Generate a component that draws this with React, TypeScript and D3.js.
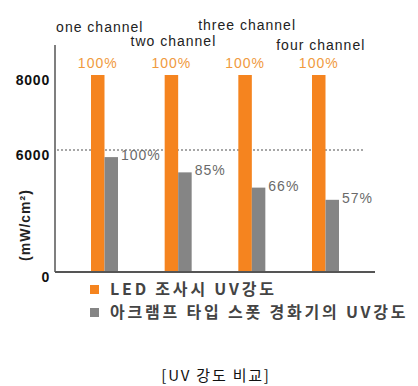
import * as d3 from "d3";

const categories = ["one channel", "two channel", "three channel", "four channel"];
const series = ["LED 조사시 UV강도", "아크램프 타입 스폿 경화기의 UV강도"];
const ledValues = [8000, 8000, 8000, 8000];
const arcValues = [5650, 4900, 4150, 3550];
const ledPct = ["100%", "100%", "100%", "100%"];
const arcPct = ["100%", "85%", "66%", "57%"];
const yTicks = [0, 6000, 8000];
const refLine = 6000;
const yLabel = "(mW/cm²)";
const caption = "[UV 강도 비교]";

const ORANGE = "#F5841F";
const GREY = "#858585";
const AXIS = "#555";

export default function App() {
  const width = 418;
  const height = 386;
  const axisX = 55;
  const axisTop = 45;
  const axisRight = 375;
  // schematic axis: the upper segment is stretched like in the original figure
  const y = d3.scaleLinear([0, refLine, 8000], [272, 150, 75]);
  const x0 = d3.scalePoint(categories, [105, 326]);
  const x1 = d3.scaleBand(series, [-14, 13]);
  // staggered rows for the category titles
  const labelRow = [32, 46, 30, 50];
  const sans = "'Liberation Sans', Arial, sans-serif";
  const kr = "'Noto Sans CJK KR', sans-serif";

  const bars = categories.flatMap((c, i) => [
    { c, i, s: series[0], v: ledValues[i], fill: ORANGE },
    { c, i, s: series[1], v: arcValues[i], fill: GREY },
  ]);

  return (
    <svg
      width={width}
      height={height}
      style={{ position: "absolute", left: 0, top: 0, background: "#fff" }}
    >
      <line
        x1={axisX + 2}
        x2={365}
        y1={y(refLine)}
        y2={y(refLine)}
        stroke="#8a8a8a"
        strokeWidth={1.5}
        strokeDasharray="2,2"
      />
      {bars.map((b) => (
        <rect
          key={b.c + b.s}
          x={(x0(b.c) ?? 0) + (x1(b.s) ?? 0)}
          y={y(b.v)}
          width={x1.bandwidth()}
          height={y(0) - y(b.v)}
          fill={b.fill}
        />
      ))}
      <line x1={axisX} x2={axisX} y1={axisTop} y2={y(0)} stroke={AXIS} strokeWidth={1.5} />
      <line x1={axisX} x2={axisRight} y1={y(0)} y2={y(0)} stroke={AXIS} strokeWidth={2} />

      {yTicks.map((t) => (
        <text
          key={t}
          x={50}
          y={y(t) + 10}
          textAnchor="end"
          fontFamily={sans}
          fontWeight="bold"
          fontSize={14}
          letterSpacing={0.8}
          fill="#111"
        >
          {t}
        </text>
      ))}
      <text
        transform={`translate(30,225) rotate(-90)`}
        textAnchor="middle"
        fontFamily={sans}
        fontWeight="bold"
        fontSize={14}
        letterSpacing={1}
        fill="#222"
      >
        {yLabel}
      </text>

      {categories.map((c, i) => (
        <text
          key={c}
          x={(x0(c) ?? 0) + (x1(series[0]) ?? 0) + x1.bandwidth() / 2 + 2}
          y={labelRow[i]}
          textAnchor="middle"
          fontFamily={sans}
          fontSize={14}
          letterSpacing={1}
          fill="#222"
        >
          {c}
        </text>
      ))}
      {categories.map((c, i) => (
        <text
          key={c + "led"}
          x={(x0(c) ?? 0) + (x1(series[0]) ?? 0) + x1.bandwidth() / 2}
          y={y(ledValues[i]) - 7}
          textAnchor="middle"
          fontFamily={sans}
          fontSize={14}
          letterSpacing={1}
          fill="#F09A3E"
        >
          {ledPct[i]}
        </text>
      ))}
      {categories.map((c, i) => (
        <text
          key={c + "arc"}
          x={(x0(c) ?? 0) + (x1(series[1]) ?? 0) + x1.bandwidth() + 3}
          y={y(arcValues[i]) + 3}
          fontFamily={sans}
          fontSize={14}
          letterSpacing={1}
          fill="#6a6a6a"
        >
          {arcPct[i]}
        </text>
      ))}

      {series.map((s, i) => (
        <g key={s} transform={`translate(90,${285 + i * 23})`}>
          <rect width={9} height={9} fill={i === 0 ? ORANGE : GREY} />
          <text
            x={20}
            y={10}
            fontFamily={kr}
            fontWeight="bold"
            fontSize={16}
            letterSpacing={2.8}
            fill="#444"
          >
            {s}
          </text>
        </g>
      ))}

      <text
        x={216}
        y={381}
        textAnchor="middle"
        fontFamily={kr}
        fontSize={15}
        letterSpacing={1.8}
        fill="#111"
      >
        {caption}
      </text>
    </svg>
  );
}
